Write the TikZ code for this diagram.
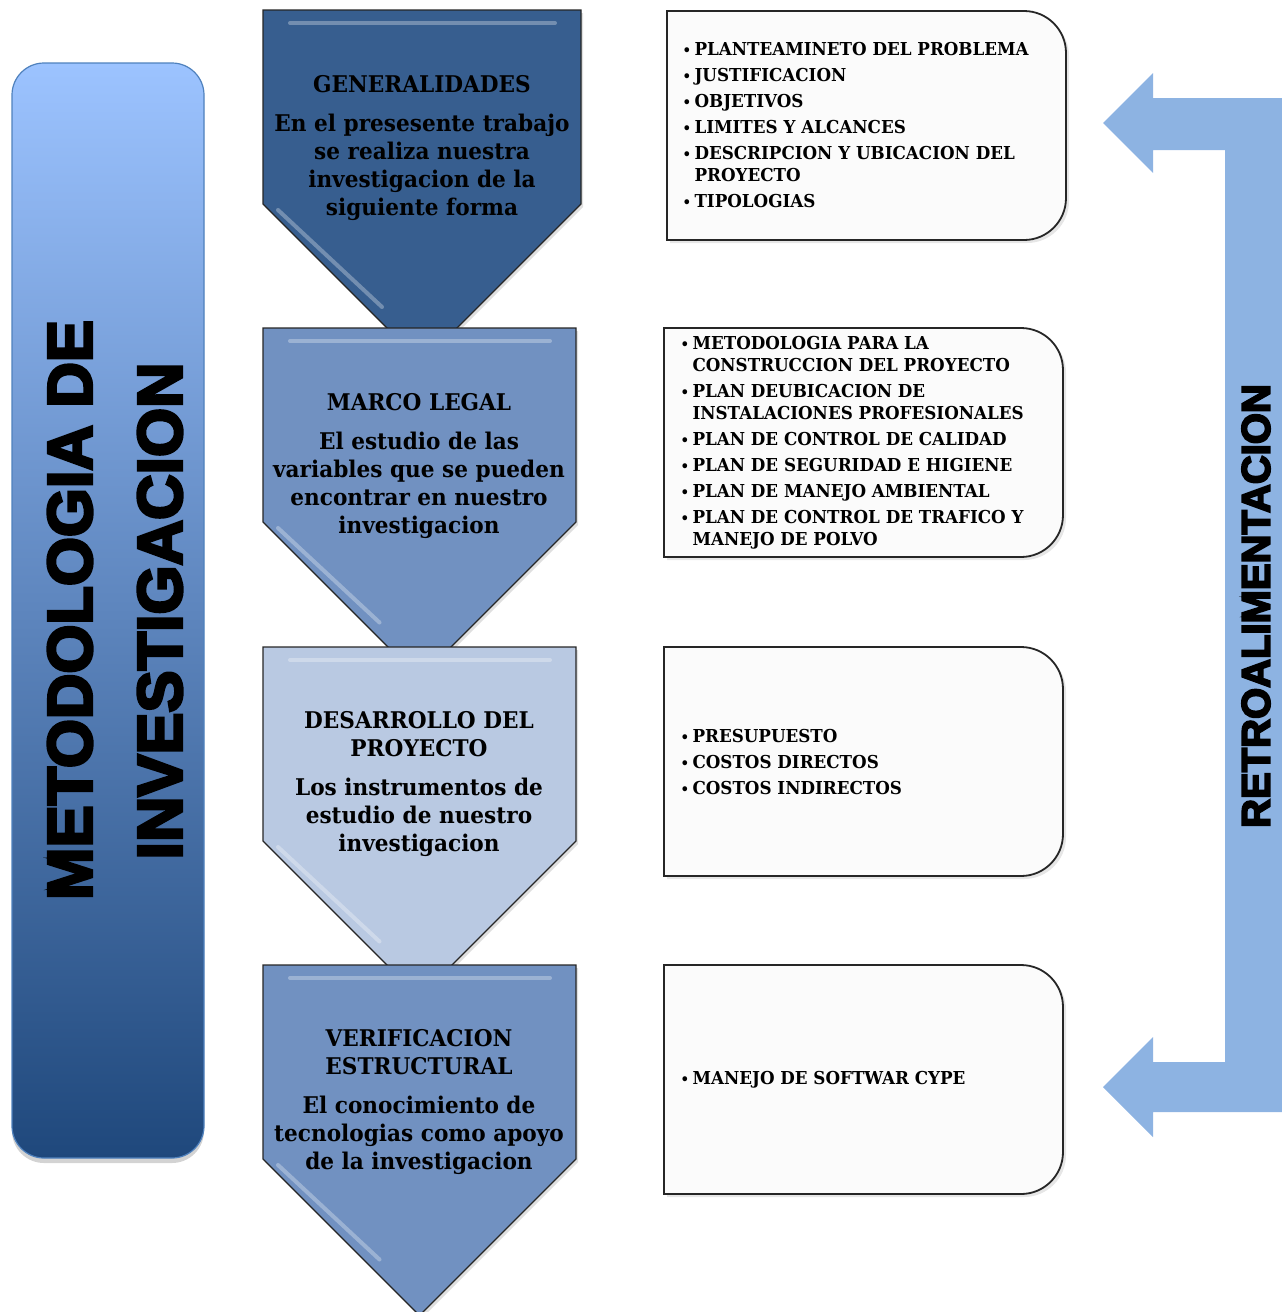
\documentclass[tikz,border=0pt]{standalone}
\usepackage{graphicx}
\usepackage{fontspec}
\setmainfont{DejaVu Serif}[FakeStretch=0.94]
\newfontfamily\blockfont{Liberation Sans Bold}[FakeBold=4.5]
\usetikzlibrary{shadows}
\definecolor{darkblue}{HTML}{375E8F}
\definecolor{midblue}{HTML}{7191C1}
\definecolor{paleblue}{HTML}{B9C9E2}
\definecolor{skyblue}{HTML}{9CC3FF}
\definecolor{navyblue}{HTML}{1F487C}
\definecolor{edgeblue}{HTML}{4F81BD}
\definecolor{loopblue}{HTML}{8DB3E2}
\definecolor{boxwhite}{HTML}{FBFBFB}
\definecolor{darkgray}{HTML}{262626}
\newcommand{\pto}{\makebox[12pt][l]{\scalebox{0.8}{\textbullet}}}

\tikzset{
  chevron/.style={draw=darkgray, line width=1.3pt, line join=miter,
    drop shadow={shadow xshift=2pt, shadow yshift=-3pt, opacity=0.25}},
  bevel/.style={white, opacity=0.3, line width=4pt, line cap=round},
  steptext/.style={align=center, font=\bfseries\fontsize{23}{28}\selectfont},
  listbox/.style={draw=darkgray, line width=1.8pt, fill=boxwhite,
    drop shadow={shadow xshift=3pt, shadow yshift=-3pt, opacity=0.2}},
  listtext/.style={anchor=west, align=left, font=\bfseries\fontsize{17.8}{22}\selectfont},
  bigword/.style={rotate=90, font=\blockfont\fontsize{#1}{#1}\selectfont},
}

\begin{document}
\begin{tikzpicture}[x=1pt, y=-1pt]
\useasboundingbox (0,0) rectangle (1282,1312);

\draw[edgeblue, line width=1.2pt, rounded corners=32pt, top color=skyblue, bottom color=navyblue,
  drop shadow={shadow xshift=0pt, shadow yshift=-5pt, opacity=0.35}] (12,63) rectangle (204,1158);
\node[bigword=63] (metodo) at (70,610) {METODOLOGIA DE};
\node[bigword=63] (investig) at (160,611) {INVESTIGACION};

\fill[loopblue] (1282,98) -- (1153,98) -- (1153,73) -- (1103,123) -- (1153,173) -- (1153,150)
  -- (1225,150) -- (1225,1062) -- (1153,1062) -- (1153,1037) -- (1103,1087) -- (1153,1137)
  -- (1153,1112) -- (1282,1112) -- cycle;
\node[bigword=40] (retro) at (1256,606) {RETROALIMENTACION};

\foreach \ytop/\xright/\col in {10/581/darkblue, 328/576/midblue, 647/576/paleblue, 965/576/midblue}{
  \pgfmathsetmacro\ycorner{\ytop+194}
  \pgfmathsetmacro\xmid{(263+\xright)/2}
  \pgfmathsetmacro\ytip{\ycorner+(\xright-263)/2}
  \filldraw[chevron, fill=\col] (263,\ytop) -- (\xright,\ytop) -- (\xright,\ycorner)
    -- (\xmid,\ytip) -- (263,\ycorner) -- cycle;
  \draw[bevel] (290,\ytop+13) -- (\xright-26,\ytop+13);
  \draw[bevel] (278,\ycorner+6) -- (\xmid-40,\ytip-56);
}

\node[steptext] (gen) at (422,148) {GENERALIDADES\\[11pt] En el presesente trabajo\\ se realiza nuestra\\ investigacion de la\\ siguiente forma};
\node[steptext] (marco) at (419,466) {MARCO LEGAL\\[11pt] El estudio de las\\ variables que se pueden\\ encontrar en nuestro\\ investigacion};
\node[steptext] (desarrollo) at (419,784) {DESARROLLO DEL\\ PROYECTO\\[11pt] Los instrumentos de\\ estudio de nuestro\\ investigacion};
\node[steptext] (verif) at (419,1102) {VERIFICACION\\ ESTRUCTURAL\\[11pt] El conocimiento de\\ tecnologias como apoyo\\ de la investigacion};

\foreach \xl/\ytop in {667/11, 664/328, 664/647, 664/965}{
  \draw[listbox] (\xl,\ytop+229) -- (\xl,\ytop) [rounded corners=42pt] -- (\xl+399,\ytop)
    -- (\xl+399,\ytop+229) [sharp corners] -- cycle;
}

\node[listtext] (lista1) at (679,125) {\pto PLANTEAMINETO DEL PROBLEMA\\[4pt] \pto JUSTIFICACION\\[4pt]
  \pto OBJETIVOS\\[4pt] \pto LIMITES Y ALCANCES\\[4pt] \pto DESCRIPCION Y UBICACION DEL\\
  \phantom{\pto}PROYECTO\\[4pt] \pto TIPOLOGIAS};
\node[listtext] (lista2) at (677,443) {\pto METODOLOGIA PARA LA\\ \phantom{\pto}CONSTRUCCION DEL PROYECTO\\[4pt]
  \pto PLAN DEUBICACION DE\\ \phantom{\pto}INSTALACIONES PROFESIONALES\\[4pt]
  \pto PLAN DE CONTROL DE CALIDAD\\[4pt] \pto PLAN DE SEGURIDAD E HIGIENE\\[4pt]
  \pto PLAN DE MANEJO AMBIENTAL\\[4pt] \pto PLAN DE CONTROL DE TRAFICO Y\\
  \phantom{\pto}MANEJO DE POLVO};
\node[listtext] (lista3) at (677,762) {\pto PRESUPUESTO\\[4pt] \pto COSTOS DIRECTOS\\[4pt] \pto COSTOS INDIRECTOS};
\node[listtext] (lista4) at (677,1080) {\pto MANEJO DE SOFTWAR CYPE};
\end{tikzpicture}
\end{document}
